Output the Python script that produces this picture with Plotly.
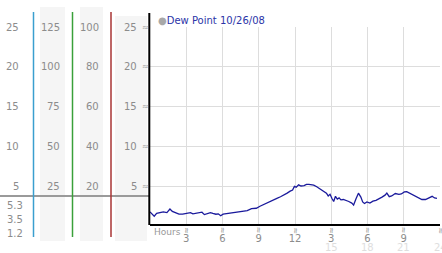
import plotly.graph_objects as go

# ---- data ----
hours = [0.0, 0.15, 0.35, 0.55, 0.8, 1.1, 1.4, 1.65, 1.85, 2.0, 2.2, 2.4, 2.7, 2.95, 3.15, 3.35,
         3.55, 3.75, 4.0, 4.3, 4.5, 4.7, 5.0, 5.2, 5.45, 5.65, 5.85, 6.05, 6.3, 6.6, 7.0, 7.4,
         7.8, 8.05, 8.4, 8.8, 9.1, 9.3, 9.5, 9.7, 9.9, 10.2, 10.5, 10.8, 11.1, 11.35, 11.6, 11.8,
         11.95, 12.1, 12.3, 12.5, 12.75, 12.95, 13.15, 13.35, 13.55, 13.8, 14.0, 14.2, 14.4, 14.6,
         14.75, 14.9, 15.05, 15.2, 15.35, 15.5, 15.65, 15.8, 16.0, 16.25, 16.45, 16.7, 16.85, 17.05,
         17.25, 17.45, 17.6, 17.75, 17.95, 18.2, 18.45, 18.7, 18.95, 19.2, 19.45, 19.6, 19.8, 20.0,
         20.3, 20.6, 20.8, 21.05, 21.25, 21.45, 21.7, 21.9, 22.2, 22.5, 22.8, 23.1, 23.35, 23.55, 23.75]
dew_point = [1.75, 1.55, 1.2, 1.55, 1.6, 1.75, 1.65, 2.1, 1.8, 1.7, 1.55, 1.45, 1.45, 1.5, 1.6, 1.65,
             1.5, 1.55, 1.65, 1.7, 1.4, 1.5, 1.65, 1.55, 1.45, 1.5, 1.25, 1.45, 1.5, 1.65, 1.65, 1.75,
             1.8, 1.9, 2.15, 2.2, 2.45, 2.6, 2.75, 2.95, 3.05, 3.3, 3.45, 3.65, 3.85, 4.1, 4.35, 4.5,
             4.95, 4.85, 5.15, 5.0, 5.05, 5.2, 5.2, 5.15, 5.1, 4.9, 4.7, 4.5, 4.25, 4.1,
             3.75, 3.95, 3.45, 3.05, 3.7, 3.35, 3.5, 3.25, 3.3, 3.2, 3.05, 2.85, 2.6, 3.4,
             4.1, 3.6, 3.0, 2.8, 3.0, 2.85, 3.1, 3.2, 3.35, 3.6, 3.85, 4.1, 3.65, 3.75,
             4.05, 3.95, 4.0, 4.25, 4.3, 4.15, 3.95, 3.75, 3.5, 3.3, 3.3, 3.5, 3.7, 3.5, 3.45]
series_name = "Dew Point 10/26/08"

x_tick_vals = [3, 6, 9, 12, 15, 18, 21, 24]
x_tick_text = ["3", "6", "9", "12", "3", "6", "9", "12"]
x_tick_text2 = ["15", "18", "21", "24"]   # second (faded) row for afternoon hours
y_tick_vals = [5, 10, 15, 20, 25]
col1_labels = ["5", "10", "15", "20", "25"]
col2_labels = ["25", "50", "75", "100", "125"]
col3_labels = ["20", "40", "60", "80", "100"]
col4_labels = ["5", "10", "15", "20", "25"]
low_labels = ["5.3", "3.5", "1.2"]

# ---- layout geometry ----
W, H = 442, 253
ML, MR, MT, MB = 150, 2, 27, 29
PW = W - ML - MR
PH = H - MT - MB


def px(xpix):
    return (xpix - ML) / PW


def py(ypix):
    return (H - MB - ypix) / PH


FONT = "DejaVu Sans"
LABEL_GRAY = "#8c8c8c"

fig = go.Figure()
fig.add_trace(go.Scatter(x=hours, y=dew_point, mode="lines",
                         line=dict(color="#1a1a9c", width=1.3),
                         name=series_name, showlegend=False))

shapes = []
# gray bands in left panel
for x0, x1, y1 in [(40, 65, 7), (80, 103, 7), (115, 147, 16)]:
    shapes.append(dict(type="rect", xref="paper", yref="paper", x0=px(x0), x1=px(x1),
                       y0=py(241), y1=py(y1), fillcolor="#f5f5f5", line=dict(width=0), layer="below"))
# horizontal gray line
shapes.append(dict(type="line", xref="paper", yref="paper", x0=px(0), x1=px(150),
                   y0=py(196), y1=py(196), line=dict(color="#9a9a9a", width=2)))
# coloured scale lines
for xp, col in [(33.5, "#3a9fcf"), (72.5, "#3aa03a"), (111, "#a83434")]:
    shapes.append(dict(type="line", xref="paper", yref="paper", x0=px(xp), x1=px(xp),
                       y0=py(237), y1=py(12), line=dict(color=col, width=1.5)))
# black left axis
shapes.append(dict(type="line", xref="paper", yref="paper", x0=px(149.3), x1=px(149.3),
                   y0=py(225), y1=py(13), line=dict(color="black", width=2)))

ann = []
# left label columns
for vals, labs, xr in [(y_tick_vals, col1_labels, 20), (y_tick_vals, col2_labels, 61),
                       (y_tick_vals, col3_labels, 100), (y_tick_vals, col4_labels, 138)]:
    for v, t in zip(vals, labs):
        ann.append(dict(x=px(xr), y=v, xref="paper", yref="y", text=t, showarrow=False,
                        xanchor="right", yanchor="middle", borderpad=0,
                        font=dict(family=FONT, size=10, color=LABEL_GRAY)))
for t, yp in zip(low_labels, [205, 219, 233]):
    ann.append(dict(x=px(23.5), y=py(yp), xref="paper", yref="paper", text=t, showarrow=False,
                    xanchor="right", yanchor="middle", borderpad=0,
                    font=dict(family=FONT, size=10, color=LABEL_GRAY)))
# y tick marks
for v in y_tick_vals:
    ann.append(dict(x=px(145.5), y=v, xref="paper", yref="y", text="≈", showarrow=False,
                    xanchor="center", yanchor="middle", borderpad=0,
                    font=dict(family=FONT, size=8, color="#999999")))
# x tick marks
for v in x_tick_vals:
    ann.append(dict(x=v, y=py(230.5), xref="x", yref="paper", text="≈", showarrow=False,
                    textangle=90, xanchor="center", yanchor="middle", borderpad=0,
                    font=dict(family=FONT, size=8, color="#999999")))
# second row of hour labels
for v, t in zip(x_tick_vals[4:], x_tick_text2):
    ann.append(dict(x=v, y=py(247), xref="x", yref="paper", text=t, showarrow=False,
                    xanchor="center", yanchor="middle", borderpad=0,
                    font=dict(family=FONT, size=10, color="#dedede")))
# Hours label
ann.append(dict(x=px(153), y=py(232), xref="paper", yref="paper", text="Hours", showarrow=False,
                xanchor="left", yanchor="middle", borderpad=0,
                font=dict(family=FONT, size=9, color="#999999")))
# legend
ann.append(dict(x=px(157), y=py(21), xref="paper", yref="paper",
                text="<span style='color:#a8a8a8'>●</span>" + series_name, showarrow=False,
                xanchor="left", yanchor="middle", borderpad=0,
                font=dict(family=FONT, size=10, color="#2b35a8")))

fig.update_layout(
    width=W, height=H,
    margin=dict(l=ML, r=MR, t=MT, b=MB, pad=0),
    paper_bgcolor="white", plot_bgcolor="white",
    showlegend=False,
    shapes=shapes, annotations=ann,
    xaxis=dict(range=[0, 24], tickvals=x_tick_vals, ticktext=x_tick_text,
               showgrid=True, gridcolor="#dddddd", gridwidth=1, zeroline=False,
               showline=True, linecolor="black", linewidth=2, ticks="",
               ticklabelstandoff=4,
               tickfont=dict(family=FONT, size=10, color=LABEL_GRAY), fixedrange=True),
    yaxis=dict(range=[0.22, 25], tickvals=y_tick_vals, showticklabels=False,
               showgrid=True, gridcolor="#dddddd", gridwidth=1, zeroline=False,
               showline=False, ticks="", fixedrange=True),
)

fig.write_html("out.html")
